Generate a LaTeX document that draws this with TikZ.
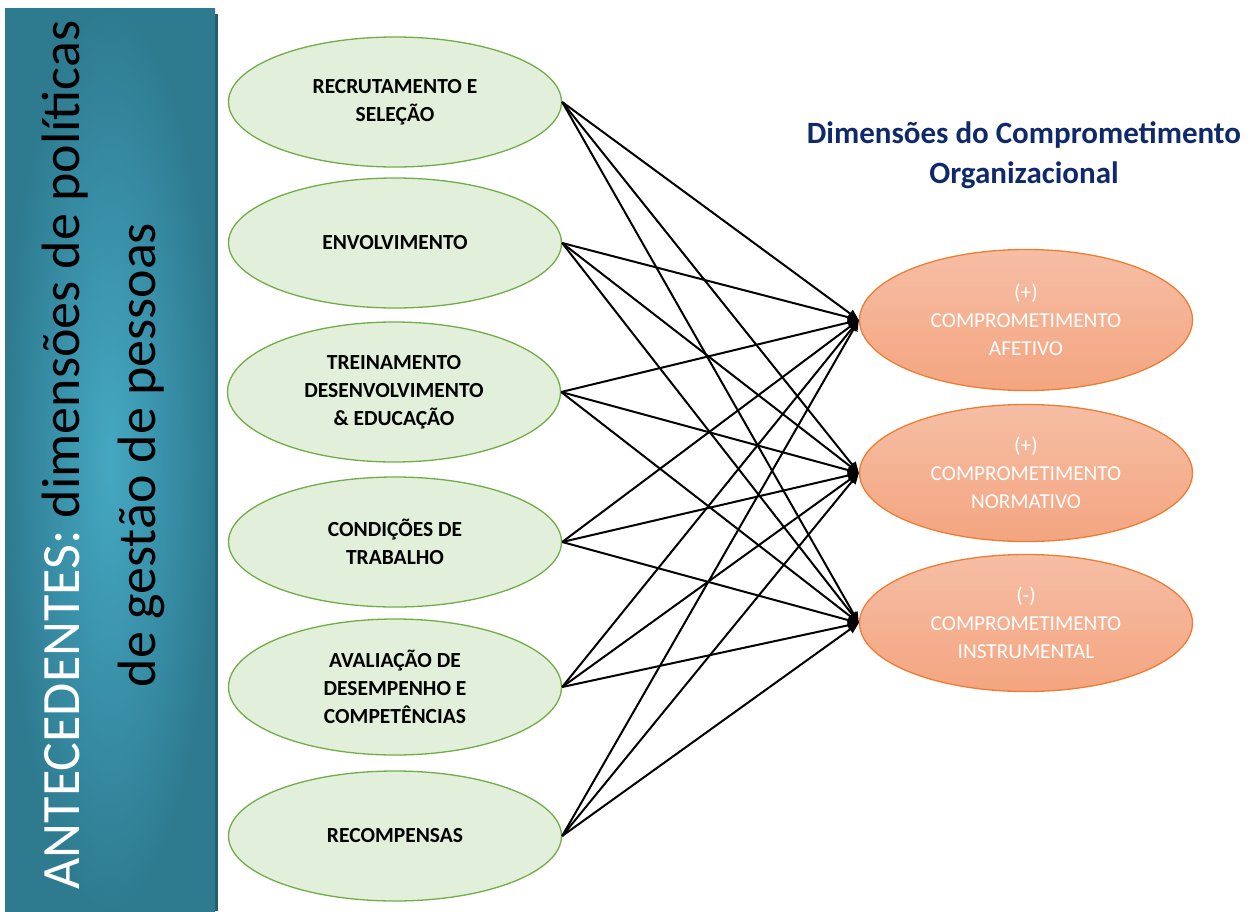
\documentclass[tikz,border=0pt]{standalone}
\usepackage{fontspec}
\setmainfont{Carlito}
\newfontfamily\barfont{Carlito}
\usetikzlibrary{shapes.geometric,arrows.meta}
\definecolor{barteal}{HTML}{2E7B90}
\definecolor{barlight}{HTML}{45A8C3}
\definecolor{barshadow}{HTML}{235E6E}
\definecolor{leaffill}{HTML}{E2EFDA}
\definecolor{leafline}{HTML}{70AD47}
\definecolor{peachtop}{HTML}{F6BEA5}
\definecolor{peachbot}{HTML}{F4A580}
\definecolor{peachline}{HTML}{ED7D31}
\definecolor{navy}{HTML}{10296A}

\begin{document}
\begin{tikzpicture}[x=1pt,y=-1pt,
  policy/.style={ellipse, draw=leafline, line width=1.3pt, fill=leaffill,
    minimum width=333pt, minimum height=130pt, inner sep=0pt, align=center,
    font=\fontsize{21.5}{28}\selectfont\bfseries},
  commit/.style={ellipse, draw=peachline, line width=1.3pt,
    top color=peachtop, bottom color=peachbot,
    minimum width=333pt, minimum height=137pt, inner sep=0pt, align=center,
    text=white, font=\fontsize{21.3}{28}\selectfont},
  link/.style={line width=2pt, -{Triangle[length=11pt,width=9pt]}}]
\useasboundingbox (0,0) rectangle (1259,911);

% side banner with its drop shadow
\fill[barshadow] (8,14) rectangle (218,911);
\shade[inner color=barlight, outer color=barteal] (5,8) rectangle (215,911);
\node[rotate=90, align=center, inner sep=0pt,
      font=\barfont\fontsize{54}{76}\selectfont] (bartext) at (103,455)
  {\textcolor{white}{ANTECEDENTES:} dimensões de políticas\\de gestão de pessoas};

% HR policy dimensions
\node[policy] (p1) at (395,102) {RECRUTAMENTO E\\SELEÇÃO};
\node[policy] (p2) at (395,243) {ENVOLVIMENTO};
\node[policy, minimum height=140pt] (p3) at (394,392) {TREINAMENTO\\DESENVOLVIMENTO\\\& EDUCAÇÃO};
\node[policy] (p4) at (395,542) {CONDIÇÕES DE\\TRABALHO};
\node[policy, minimum height=136pt] (p5) at (395,687) {AVALIAÇÃO DE\\DESEMPENHO E\\COMPETÊNCIAS};
\node[policy] (p6) at (395,836) {RECOMPENSAS};

% commitment dimensions
\node[align=center, text=navy, font=\fontsize{31}{40}\selectfont\bfseries] (title)
  at (1024,155) {Dimensões do Comprometimento\\Organizacional};
\node[commit, minimum height=141pt] (c1) at (1026,320) {(+)\\COMPROMETIMENTO\\AFETIVO};
\node[commit] (c2) at (1026,473) {(+)\\COMPROMETIMENTO\\NORMATIVO};
\node[commit] (c3) at (1026,623) {(-)\\COMPROMETIMENTO\\INSTRUMENTAL};

% every policy influences every commitment dimension
\foreach \i in {1,...,6}
  \foreach \j in {1,2,3}
    \draw[link] (p\i.east) -- (c\j.west);
\end{tikzpicture}
\end{document}
